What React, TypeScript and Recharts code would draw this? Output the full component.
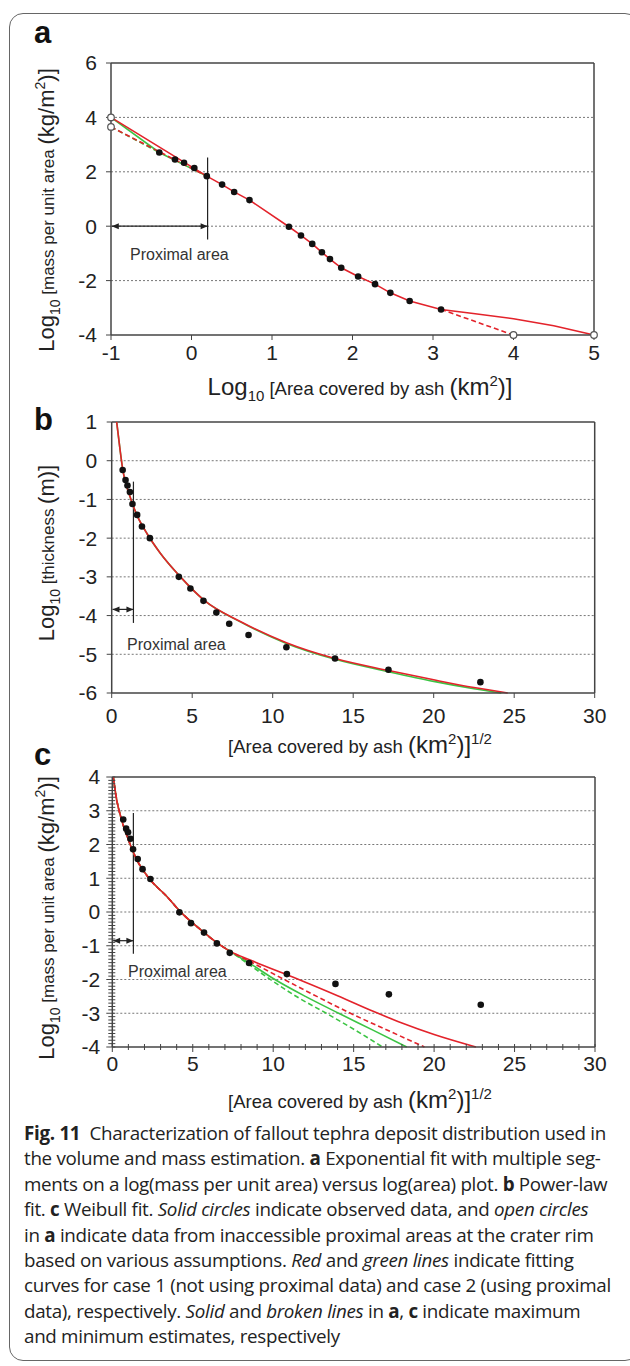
import React from "react";
import {
  ComposedChart,
  Line,
  Scatter,
  XAxis,
  YAxis,
  ReferenceLine,
} from "recharts";

// ---------- panel a : log(area) vs log(mass per unit area) ----------
const aLogArea = [-0.4, -0.205, -0.093, 0.035, 0.19, 0.38, 0.53, 0.72, 1.21, 1.36, 1.5, 1.62, 1.72, 1.86, 2.07, 2.28, 2.47, 2.71, 3.1];
const aLogMass = [2.71, 2.45, 2.33, 2.14, 1.84, 1.53, 1.26, 0.96, -0.02, -0.34, -0.65, -0.96, -1.21, -1.53, -1.85, -2.13, -2.45, -2.75, -3.06];
const aOpenX = [-1, -1, 4, 5];
const aOpenY = [4.0, 3.65, -4, -4];
const aRedSolidX = [-1, 0.19, 0.38, 0.53, 0.72, 1.21, 1.36, 1.5, 1.62, 1.72, 1.86, 2.07, 2.28, 2.47, 2.71, 3.1, 3.5, 4, 4.5, 5];
const aRedSolidY = [4.0, 1.84, 1.53, 1.26, 0.96, -0.02, -0.34, -0.65, -0.96, -1.21, -1.53, -1.85, -2.13, -2.45, -2.75, -3.06, -3.21, -3.4, -3.66, -4];
const aRedDashHeadX = [-1, 0.19];
const aRedDashHeadY = [3.65, 1.84];
const aRedDashTailX = [3.1, 4];
const aRedDashTailY = [-3.06, -4];
const aGreenSolidX = [-1, -0.4, 0.19];
const aGreenSolidY = [4.0, 2.71, 1.84];
const aGreenDashX = [-1, -0.4];
const aGreenDashY = [3.65, 2.71];
const aXTicks = [-1, 0, 1, 2, 3, 4, 5];
const aYTicks = [-4, -2, 0, 2, 4, 6];
const aGrid = [4, 2, 0, -2];

// ---------- panels b, c : sqrt(area) ----------
const sqrtArea = [0.68, 0.86, 0.98, 1.13, 1.29, 1.58, 1.88, 2.37, 4.17, 4.89, 5.7, 6.5, 7.3, 8.5, 10.85, 13.87, 17.19, 22.9];
const bLogThick = [-0.24, -0.5, -0.64, -0.81, -1.12, -1.4, -1.7, -2.0, -3.0, -3.3, -3.62, -3.92, -4.21, -4.5, -4.82, -5.11, -5.4, -5.72];
const bRedX = [0.31, 0.52, 0.69, 1.14, 1.56, 2.19, 3.02, 4.27, 5.73, 8.02, 10.85, 13.88, 17.2, 20, 22.5, 24.6];
const bRedY = [1.0, 0.28, -0.24, -0.93, -1.4, -1.88, -2.39, -3.0, -3.6, -4.16, -4.7, -5.11, -5.42, -5.66, -5.86, -6.0];
const bGreenX = [0.31, 0.52, 0.69, 1.14, 1.56, 2.19, 3.02, 4.27, 5.73, 8.02, 10.85, 13.88, 17.2, 20, 22.5, 24.2];
const bGreenY = [1.0, 0.28, -0.24, -0.93, -1.4, -1.88, -2.39, -3.0, -3.6, -4.17, -4.72, -5.13, -5.45, -5.7, -5.89, -6.0];
const bXTicks = [0, 5, 10, 15, 20, 25, 30];
const bYTicks = [-6, -5, -4, -3, -2, -1, 0, 1];
const bGrid = [0, -1, -2, -3, -4, -5];

const cLogMass = [2.74, 2.47, 2.36, 2.17, 1.86, 1.57, 1.27, 0.98, -0.01, -0.33, -0.61, -0.93, -1.21, -1.51, -1.84, -2.13, -2.44, -2.75];
const cHeadX = [0.06, 0.27, 0.58, 1.0, 1.52, 2.35, 3.39, 4.21, 5.66, 6.47, 7.3];
const cHeadY = [4.0, 3.33, 2.73, 2.14, 1.55, 0.96, 0.46, 0.02, -0.59, -0.9, -1.16];
const cRedSolidX = [8.57, 10.85, 12, 14, 16.25, 18, 20, 22.6];
const cRedSolidY = [-1.42, -1.86, -2.08, -2.48, -2.95, -3.29, -3.63, -4.0];
const cRedDashX = [8.57, 10.6, 12.5, 14.8, 17, 19.4];
const cRedDashY = [-1.47, -1.98, -2.45, -3.0, -3.48, -4.0];
const cGreenSolidX = [8.57, 10, 12, 14.07, 16.2, 18.3];
const cGreenSolidY = [-1.53, -1.97, -2.5, -3.0, -3.5, -4.0];
const cGreenDashX = [8.57, 9.7, 11.5, 13.3, 15.1, 16.8];
const cGreenDashY = [-1.58, -1.96, -2.52, -3.0, -3.5, -4.0];
const cYTicks = Array.from({ length: 81 }, (_, i) => Math.round((-4 + i * 0.1) * 10) / 10);
const cXTicks = Array.from({ length: 31 }, (_, i) => i);
const cGrid = [3, 2, 1, 0, -1, -2, -3];

const RED = "#e3232b";
const GREEN = "#3cc444";
const AXIS = "#444";
const ARIAL = "'Liberation Sans', Arial, sans-serif";

const pts = (xs: number[], ys: number[]) => xs.map((x, i) => ({ x, y: ys[i] }));

const tickStyle = { fontSize: 21, fill: "#222", fontFamily: ARIAL };

const Dot = (p: any) => <circle cx={p.cx} cy={p.cy} r={3.3} fill="#111" />;
const OpenDot = (p: any) => <circle cx={p.cx} cy={p.cy} r={3.3} fill="#fff" stroke="#555" strokeWidth={1.2} />;

const Arrow = (p: any) => {
  const { x1, y1, x2, y2 } = p;
  const h = 7;
  const w = 3;
  return (
    <g>
      <line x1={x1} y1={y1} x2={x2} y2={y2} stroke="#222" strokeWidth={1.2} />
      <polygon points={`${x1},${y1} ${x1 + h},${y1 - w} ${x1 + h},${y1 + w}`} fill="#222" />
      <polygon points={`${x2},${y2} ${x2 - h},${y2 - w} ${x2 - h},${y2 + w}`} fill="#222" />
    </g>
  );
};

const CTickY = (p: any) => {
  const { x, y, payload } = p;
  const v = payload.value;
  const major = Math.abs(v - Math.round(v)) < 1e-6;
  return (
    <g>
      <line x1={x - (major ? 6 : 4)} x2={x + 3} y1={y} y2={y} stroke={AXIS} strokeWidth={1} />
      {major && (
        <text x={x - 12} y={y} dy="0.355em" textAnchor="end" {...tickStyle}>
          {Math.round(v)}
        </text>
      )}
    </g>
  );
};

const CTickX = (p: any) => {
  const { x, y, payload } = p;
  const v = payload.value;
  const major = v % 5 === 0;
  return (
    <g>
      <line x1={x} x2={x} y1={y - 3} y2={y + (major ? 5 : 3)} stroke={AXIS} strokeWidth={1} />
      {major && (
        <text x={x} y={y + 9.5} dy="0.71em" textAnchor="middle" {...tickStyle}>
          {v}
        </text>
      )}
    </g>
  );
};

const gridLines = (vals: number[]) =>
  vals.map((v) => (
    <ReferenceLine key={`g${v}`} y={v} stroke="#777" strokeDasharray="2 2" strokeWidth={1} />
  ));

const curve = (key: string, data: any[], color: string, dashed = false, type: any = "monotone") => (
  <Line
    key={key}
    data={data}
    dataKey="y"
    type={type}
    stroke={color}
    strokeWidth={1.6}
    strokeDasharray={dashed ? "5 3" : undefined}
    dot={false}
    activeDot={false}
    isAnimationActive={false}
  />
);

const sub = (t: string, fs = 14) => <span style={{ fontSize: fs, position: "relative", top: 6 }}>{t}</span>;
const sup = (t: string, fs = 14) => <span style={{ fontSize: fs, position: "relative", top: -9 }}>{t}</span>;

const Title = ({ cx, cy, rotate, children }: any) => (
  <div
    style={{
      position: "absolute",
      left: cx,
      top: cy,
      transform: `translate(-50%, -50%)${rotate ? " rotate(-90deg)" : ""}`,
      whiteSpace: "nowrap",
      fontFamily: ARIAL,
      color: "#222",
      lineHeight: 1,
    }}
  >
    {children}
  </div>
);

const Note = ({ x, y }: { x: number; y: number }) => (
  <div style={{ position: "absolute", left: x, top: y - 9, fontFamily: ARIAL, fontSize: 16, color: "#333", whiteSpace: "nowrap", lineHeight: "18px" }}>
    Proximal area
  </div>
);

const Letter = ({ y, t }: { y: number; t: string }) => (
  <div style={{ position: "absolute", left: 34, top: y, fontFamily: ARIAL, fontWeight: 700, fontSize: 31, lineHeight: "31px", color: "#111" }}>
    {t}
  </div>
);

const XTitleBig = 24;
const XTitleSmall = 18.5;

export default function App() {
  const axisLine = { stroke: AXIS, strokeWidth: 1.5 };
  return (
    <div style={{ position: "absolute", left: 0, top: 0, width: 630, height: 1366, overflow: "hidden", background: "#fff" }}>
      <div
        style={{
          position: "absolute",
          left: 9,
          top: 13,
          width: 630,
          height: 1348,
          border: "1.5px solid #666",
          borderRadius: 14,
          boxSizing: "border-box",
        }}
      />

      {/* panel a */}
      <div style={{ position: "absolute", left: 0, top: 43 }}>
        <ComposedChart width={630} height={337} margin={{ top: 20, right: 36, bottom: 5, left: 51 }}>
          <XAxis type="number" dataKey="x" domain={[-1, 5]} ticks={aXTicks} height={40}
            tick={tickStyle} tickSize={5} tickMargin={5} axisLine={axisLine} tickLine={{ stroke: AXIS }} interval={0} />
          <YAxis type="number" dataKey="y" domain={[-4, 6]} ticks={aYTicks} width={60}
            tick={tickStyle} tickSize={5} tickMargin={9} axisLine={axisLine} tickLine={{ stroke: AXIS }} interval={0} />
          {gridLines(aGrid)}
          <ReferenceLine y={6} stroke={AXIS} strokeWidth={1.5} />
          <ReferenceLine x={5} stroke={AXIS} strokeWidth={1.5} />
          <ReferenceLine segment={[{ x: 0.2, y: 2.53 }, { x: 0.2, y: -0.49 }]} stroke="#222" strokeWidth={1.2} />
          <ReferenceLine segment={[{ x: -0.99, y: 0 }, { x: 0.2, y: 0 }]} shape={Arrow} />
          {curve("gs", pts(aGreenSolidX, aGreenSolidY), GREEN, false, "linear")}
          {curve("gd", pts(aGreenDashX, aGreenDashY), GREEN, true, "linear")}
          {curve("rd1", pts(aRedDashHeadX, aRedDashHeadY), RED, true, "linear")}
          {curve("rd2", pts(aRedDashTailX, aRedDashTailY), RED, true, "linear")}
          {curve("rs", pts(aRedSolidX, aRedSolidY), RED, false, "linear")}
          <Scatter data={pts(aLogArea, aLogMass)} shape={Dot} isAnimationActive={false} />
          <Scatter data={pts(aOpenX, aOpenY)} shape={OpenDot} isAnimationActive={false} />
        </ComposedChart>
      </div>

      {/* panel b */}
      <div style={{ position: "absolute", left: 0, top: 402.3 }}>
        <ComposedChart width={630} height={336} margin={{ top: 20, right: 35.3, bottom: 5, left: 51.7 }}>
          <XAxis type="number" dataKey="x" domain={[0, 30]} ticks={bXTicks} height={40}
            tick={tickStyle} tickSize={5} tickMargin={10} axisLine={axisLine} tickLine={{ stroke: AXIS }} interval={0} />
          <YAxis type="number" dataKey="y" domain={[-6, 1]} ticks={bYTicks} width={60}
            tick={tickStyle} tickSize={5} tickMargin={9.5} axisLine={axisLine} tickLine={{ stroke: AXIS }} interval={0} />
          {gridLines(bGrid)}
          <ReferenceLine y={1} stroke={AXIS} strokeWidth={1.5} />
          <ReferenceLine x={30} stroke={AXIS} strokeWidth={1.5} />
          <ReferenceLine segment={[{ x: 1.35, y: -0.54 }, { x: 1.35, y: -4.19 }]} stroke="#222" strokeWidth={1.2} />
          <ReferenceLine segment={[{ x: 0.05, y: -3.84 }, { x: 1.35, y: -3.84 }]} shape={Arrow} />
          {curve("bg", pts(bGreenX, bGreenY), GREEN)}
          {curve("br", pts(bRedX, bRedY), RED)}
          <Scatter data={pts(sqrtArea, bLogThick)} shape={Dot} isAnimationActive={false} />
        </ComposedChart>
      </div>

      {/* panel c */}
      <div style={{ position: "absolute", left: 0, top: 757.3 }}>
        <ComposedChart width={630} height={335} margin={{ top: 20, right: 35, bottom: 5, left: 52.3 }}>
          <XAxis type="number" dataKey="x" domain={[0, 30]} ticks={cXTicks} height={40}
            tick={<CTickX />} tickSize={0} tickMargin={0} axisLine={axisLine} tickLine={false} interval={0} />
          <YAxis type="number" dataKey="y" domain={[-4, 4]} ticks={cYTicks} width={60}
            tick={<CTickY />} tickSize={0} tickMargin={0} axisLine={axisLine} tickLine={false} interval={0} />
          {gridLines(cGrid)}
          <ReferenceLine y={4} stroke={AXIS} strokeWidth={1.5} />
          <ReferenceLine x={30} stroke={AXIS} strokeWidth={1.5} />
          <ReferenceLine segment={[{ x: 1.31, y: 2.93 }, { x: 1.31, y: -1.24 }]} stroke="#222" strokeWidth={1.2} />
          <ReferenceLine segment={[{ x: 0.05, y: -0.85 }, { x: 1.31, y: -0.85 }]} shape={Arrow} />
          {curve("cgd", pts([...cHeadX, ...cGreenDashX], [...cHeadY, ...cGreenDashY]), GREEN, true)}
          {curve("cgs", pts([...cHeadX, ...cGreenSolidX], [...cHeadY, ...cGreenSolidY]), GREEN)}
          {curve("crd", pts([...cHeadX, ...cRedDashX], [...cHeadY, ...cRedDashY]), RED, true)}
          {curve("crs", pts([...cHeadX, ...cRedSolidX], [...cHeadY, ...cRedSolidY]), RED)}
          <Scatter data={pts(sqrtArea, cLogMass)} shape={Dot} isAnimationActive={false} />
        </ComposedChart>
      </div>

      {/* panel letters */}
      <Letter y={17} t="a" />
      <Letter y={404} t="b" />
      <Letter y={739} t="c" />

      {/* axis titles */}
      <Title cx={47} cy={210} rotate>
        <span style={{ fontSize: 22 }}>Log</span>
        {sub("10")}
        <span style={{ fontSize: 17 }}> [mass per unit area </span>
        <span style={{ fontSize: 22 }}>(kg/m</span>
        {sup("2")}
        <span style={{ fontSize: 22 }}>)]</span>
      </Title>
      <Title cx={360} cy={387}>
        <span style={{ fontSize: XTitleBig }}>Log</span>
        {sub("10", 15)}
        <span style={{ fontSize: XTitleSmall }}> [Area covered by ash </span>
        <span style={{ fontSize: XTitleBig }}>(km</span>
        {sup("2", 15)}
        <span style={{ fontSize: XTitleBig }}>)]</span>
      </Title>

      <Title cx={47} cy={553} rotate>
        <span style={{ fontSize: 22 }}>Log</span>
        {sub("10")}
        <span style={{ fontSize: 17 }}> [thickness </span>
        <span style={{ fontSize: 22 }}>(m)]</span>
      </Title>
      <Title cx={360} cy={745}>
        <span style={{ fontSize: XTitleSmall }}>[Area covered by ash </span>
        <span style={{ fontSize: XTitleBig }}>(km</span>
        {sup("2", 15)}
        <span style={{ fontSize: XTitleBig }}>)]</span>
        {sup("1/2", 15)}
      </Title>

      <Title cx={47} cy={918} rotate>
        <span style={{ fontSize: 22 }}>Log</span>
        {sub("10")}
        <span style={{ fontSize: 17 }}> [mass per unit area </span>
        <span style={{ fontSize: 22 }}>(kg/m</span>
        {sup("2")}
        <span style={{ fontSize: 22 }}>)]</span>
      </Title>
      <Title cx={360} cy={1100}>
        <span style={{ fontSize: XTitleSmall }}>[Area covered by ash </span>
        <span style={{ fontSize: XTitleBig }}>(km</span>
        {sup("2", 15)}
        <span style={{ fontSize: XTitleBig }}>)]</span>
        {sup("1/2", 15)}
      </Title>

      <Note x={130} y={255} />
      <Note x={127} y={645} />
      <Note x={128} y={972} />

      {/* caption */}
      <div
        style={{
          position: "absolute",
          left: 24,
          top: 1121,
          fontFamily: "'Open Sans', 'Noto Sans', sans-serif",
          fontSize: 18.8,
          lineHeight: "25.4px",
          color: "#222",
          whiteSpace: "nowrap",
          letterSpacing: -0.3,
        }}
      >
        <div><b>Fig. 11</b>&nbsp; Characterization of fallout tephra deposit distribution used in</div>
        <div>the volume and mass estimation. <b>a</b> Exponential fit with multiple seg-</div>
        <div>ments on a log(mass per unit area) versus log(area) plot. <b>b</b> Power-law</div>
        <div>fit. <b>c</b> Weibull fit. <i>Solid circles</i> indicate observed data, and <i>open circles</i></div>
        <div>in <b>a</b> indicate data from inaccessible proximal areas at the crater rim</div>
        <div>based on various assumptions. <i>Red</i> and <i>green lines</i> indicate fitting</div>
        <div>curves for case 1 (not using proximal data) and case 2 (using proximal</div>
        <div>data), respectively. <i>Solid</i> and <i>broken lines</i> in <b>a</b>, <b>c</b> indicate maximum</div>
        <div>and minimum estimates, respectively</div>
      </div>
    </div>
  );
}
